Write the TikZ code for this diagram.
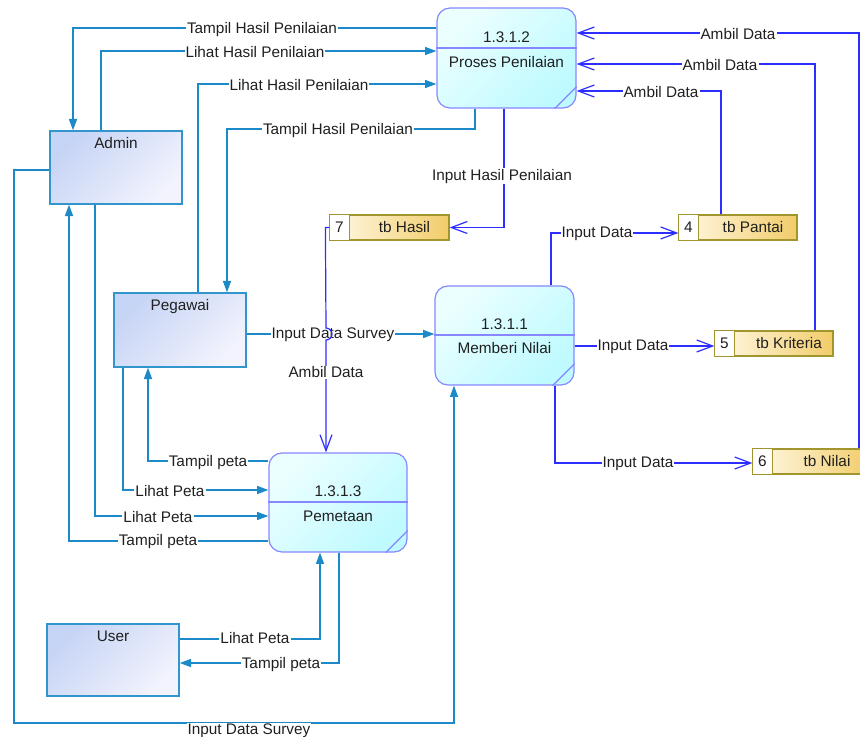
\documentclass[tikz,border=0pt]{standalone}
\usepackage{fontspec}
\setmainfont{Liberation Sans}
\usetikzlibrary{arrows.meta}

\newlength{\du}
\setlength{\du}{0.75pt}

\definecolor{textcolor}{RGB}{32,32,32}
\definecolor{tealcolor}{RGB}{28,138,200}
\definecolor{bluecolor}{RGB}{45,45,255}
\definecolor{entlinecolor}{RGB}{50,150,205}
\definecolor{entfillA}{RGB}{198,212,245}
\definecolor{entfillB}{RGB}{242,243,253}
\definecolor{proclinecolor}{RGB}{135,135,255}
\definecolor{procfillA}{RGB}{236,255,255}
\definecolor{procfillB}{RGB}{190,250,255}
\definecolor{storelinecolor}{RGB}{160,150,45}
\definecolor{storefillA}{RGB}{255,249,230}
\definecolor{storefillB}{RGB}{242,204,105}

\tikzset{
  entity/.style={draw=entlinecolor, line width=1.4\du, left color=entfillA, right color=entfillB,
    shading angle=45, minimum width=132\du, inner sep=0pt},
  process/.style={draw=proclinecolor, line width=1.2\du, rounded corners=13\du, left color=procfillA,
    right color=procfillB, shading angle=45, minimum width=139\du, minimum height=99\du, inner sep=0pt},
  store/.style={draw=storelinecolor, line width=1.2\du, left color=storefillA, right color=storefillB,
    minimum width=118\du, minimum height=25\du, inner sep=0pt},
  procline/.style={draw=proclinecolor, line width=1.2\du},
  tflow/.style={draw=tealcolor, line width=1.4\du, -{Triangle[length=8.5pt,width=6pt]}},
  bflow/.style={draw=bluecolor, line width=1.2\du, -{Straight Barb[length=12pt,width=9pt]}},
  flowlbl/.style={fill=white, inner sep=1\du, text=textcolor, yshift=-1.2\du},
  boxtxt/.style={inner sep=0pt, text=textcolor}
}

\begin{document}
\begin{tikzpicture}[x=\du, y=-\du, every node/.style={font=\fontsize{11.5}{13}\selectfont}]
\useasboundingbox (0,0) rectangle (860,737);
\clip (0,0) rectangle (860,737);

% external entities
\node[entity, minimum height=73\du] (admin) at (116,167.5) {};
\node[boxtxt] (admintxt) at (116,143) {Admin};
\node[entity, minimum height=74\du] (pegawai) at (180,330) {};
\node[boxtxt] (pegawaitxt) at (180,307) {Pegawai};
\node[entity, minimum height=72\du] (user) at (113,660) {};
\node[boxtxt] (usertxt) at (113,636) {User};

% processes
\node[process, minimum height=100\du] (p2) at (506.5,58) {};
\draw[procline] (p2.west |- 0,48) -- (p2.east |- 0,48);
\draw[procline] ([xshift=-22\du]p2.south east) -- ([yshift=22\du]p2.south east);
\node[boxtxt] (p2id) at (506.5,37) {1.3.1.2};
\node[boxtxt] (p2txt) at (506.5,62) {Proses Penilaian};

\node[process] (p1) at (504.5,335.5) {};
\draw[procline] (p1.west |- 0,335) -- (p1.east |- 0,335);
\draw[procline] ([xshift=-22\du]p1.south east) -- ([yshift=22\du]p1.south east);
\node[boxtxt] (p1id) at (504.5,324) {1.3.1.1};
\node[boxtxt] (p1txt) at (504.5,348) {Memberi Nilai};

\node[process, minimum width=138\du] (p3) at (338,502.5) {};
\draw[procline] (p3.west |- 0,502) -- (p3.east |- 0,502);
\draw[procline] ([xshift=-22\du]p3.south east) -- ([yshift=22\du]p3.south east);
\node[boxtxt] (p3id) at (338,491) {1.3.1.3};
\node[boxtxt] (p3txt) at (338,516) {Pemetaan};

% data stores
\node[store, minimum width=119\du] (hasil) at (389.5,227.5) {};
\node[store] (pantai) at (738,227.5) {};
\node[store] (kriteria) at (774,343.5) {};
\node[store] (nilai) at (812,461.5) {};
\foreach \st/\num/\name in {hasil/7/tb Hasil, pantai/4/tb Pantai, kriteria/5/tb Kriteria, nilai/6/tb Nilai}{
  \filldraw[fill=white, draw=storelinecolor, line width=1.2\du] (\st.north west) rectangle ([xshift=20\du]\st.south west);
  \node[boxtxt] at ([xshift=10\du]\st.west) {\num};
  \node[boxtxt] at ([xshift=15\du]\st.center) {\name};
}

% flows between entities and processes
\draw[tflow] (p2.west |- 0,28) -| (admin.north -| 73,0);
\draw[tflow] (admin.north -| 101,0) |- (p2.west |- 0,51);
\draw[tflow] (pegawai.north -| 198,0) |- (p2.west |- 0,84);
\draw[tflow] (p2.south -| 475,0) |- (227,129) -- (pegawai.north -| 227,0);
\draw[tflow] (pegawai.east |- 0,334) -- (p1.west |- 0,334);
\draw[tflow] (admin.west |- 0,170) -- (14,170) -- (14,723) -| (p1.south -| 454,0);
\draw[tflow] (p3.west |- 0,461) -| (pegawai.south -| 148,0);
\draw[tflow] (pegawai.south -| 123,0) |- (p3.west |- 0,490);
\draw[tflow] (admin.south -| 95,0) |- (p3.west |- 0,516);
\draw[tflow] (p3.west |- 0,541) -| (admin.south -| 69,0);
\draw[tflow] (user.east |- 0,639) -| (p3.south -| 320,0);
\draw[tflow] (p3.south -| 339,0) |- (user.east |- 0,663);

\node[flowlbl] (l1) at (262,28) {Tampil Hasil Penilaian};
\node[flowlbl] (l2) at (255,51) {Lihat Hasil Penilaian};
\node[flowlbl] (l3) at (299,84) {Lihat Hasil Penilaian};
\node[flowlbl] (l4) at (338,129) {Tampil Hasil Penilaian};
\node[flowlbl] (l5) at (333,334) {Input Data Survey};
\node[flowlbl] (l6) at (249,730) {Input Data Survey};
\node[flowlbl] (l7) at (208,461) {Tampil peta};
\node[flowlbl] (l8) at (170,490) {Lihat Peta};
\node[flowlbl] (l9) at (158,516) {Lihat Peta};
\node[flowlbl] (l10) at (158,540) {Tampil peta};
\node[flowlbl] (l11) at (255,637) {Lihat Peta};
\node[flowlbl] (l12) at (281,663) {Tampil peta};

% flows between processes and data stores
\draw[bflow] (nilai.north -| 859,0) |- (p2.east |- 0,33);
\draw[bflow] (kriteria.north -| 815,0) |- (p2.east |- 0,64);
\draw[bflow] (pantai.north -| 721,0) |- (p2.east |- 0,91);
\draw[bflow] (p2.south -| 504,0) |- (hasil.east);
\draw[bflow] (hasil.west) -- ++(-4,0) -- (326,328) arc[start angle=90, end angle=-90, radius=6\du] -- (p3.north -| 326,0);
\draw[bflow] (p1.north -| 551,0) |- (pantai.west |- 0,233);
\draw[bflow] (p1.east |- 0,346) -- (kriteria.west |- 0,346);
\draw[bflow] (p1.south -| 555,0) |- (nilai.west |- 0,463);

\node[flowlbl] (b1) at (738,33) {Ambil Data};
\node[flowlbl] (b2) at (720,64) {Ambil Data};
\node[flowlbl] (b3) at (661,91) {Ambil Data};
\node[flowlbl] (b4) at (502,175) {Input Hasil Penilaian};
\node[flowlbl] (b5) at (326,371) {Ambil Data};
\node[flowlbl] (b6) at (597,233) {Input Data};
\node[flowlbl] (b7) at (633,346) {Input Data};
\node[flowlbl] (b8) at (638,463) {Input Data};
\end{tikzpicture}
\end{document}
